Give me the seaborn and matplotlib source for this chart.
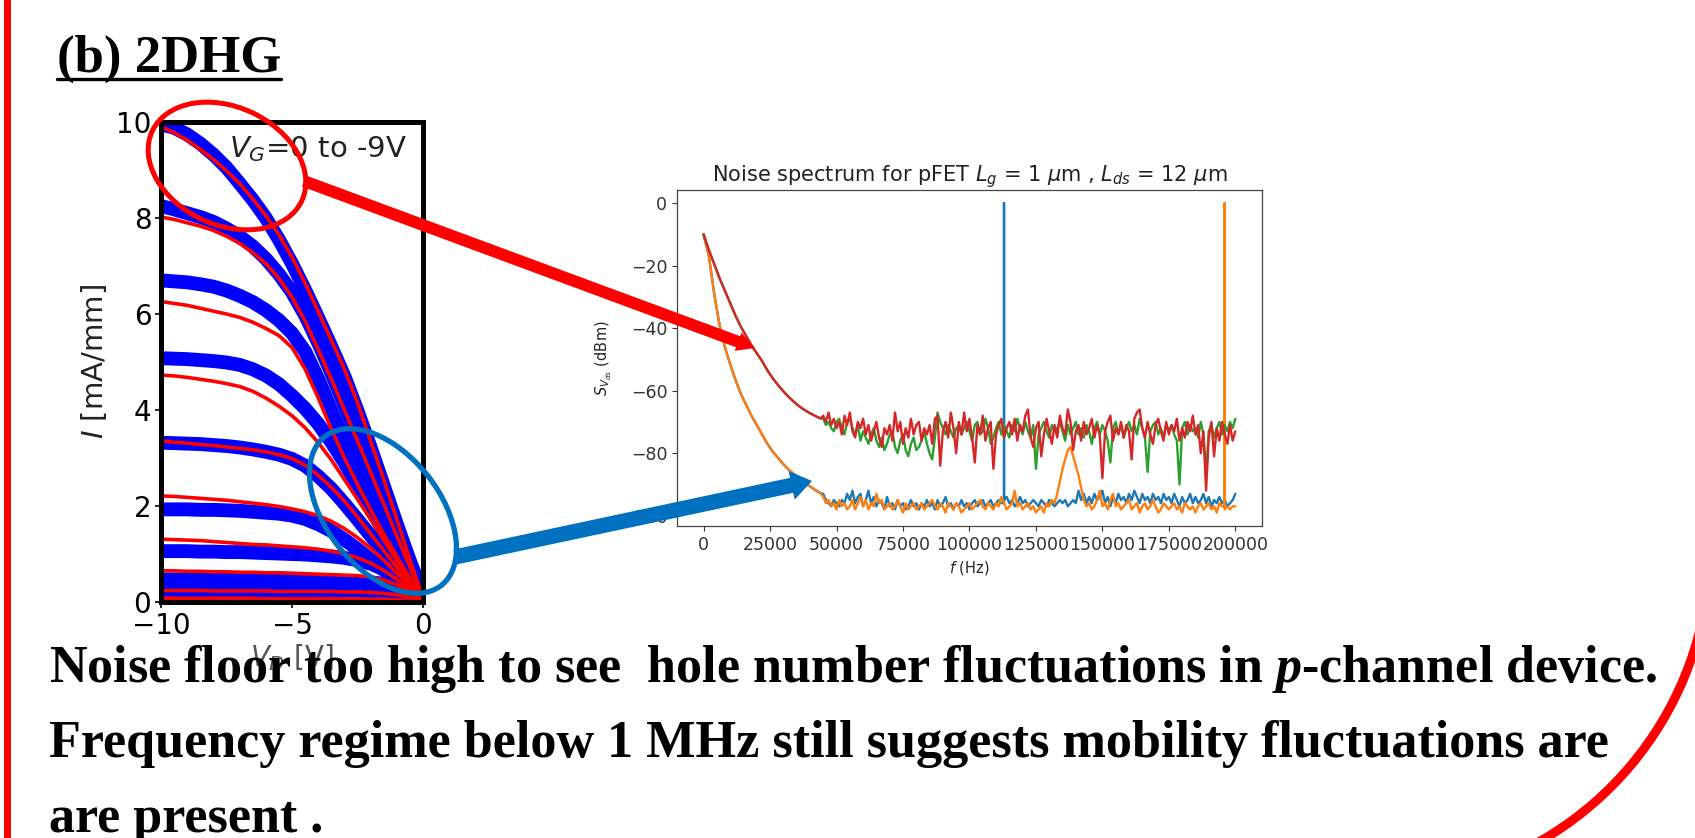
import pandas as pd
import seaborn as sns
import matplotlib.pyplot as plt
from matplotlib.patches import Ellipse, Arc, FancyArrowPatch
from matplotlib.lines import Line2D
from matplotlib.transforms import Affine2D

W, H = 1695, 838

# left panel: output curves for V_G = 0 ... -9 V (drain voltage in V, current in mA/mm)
v_drain = [-10, -9.5, -9, -8.5, -8, -7.5, -7, -6.5, -6, -5.5, -5,
           -4.5, -4, -3.5, -3, -2.5, -2, -1.5, -1, -0.5, 0]
measured_iv = [
    [9.95, 9.88, 9.74, 9.55, 9.32, 9.05, 8.72, 8.38, 8.00, 7.55, 7.05, 6.50, 5.92, 5.32, 4.70, 3.98, 3.22, 2.42, 1.62, 0.85, 0.15],
    [8.25, 8.18, 8.10, 8.02, 7.92, 7.78, 7.62, 7.41, 7.15, 6.83, 6.45, 5.97, 5.40, 4.77, 4.10, 3.43, 2.75, 2.08, 1.40, 0.75, 0.18],
    [6.70, 6.68, 6.66, 6.62, 6.57, 6.49, 6.38, 6.25, 6.08, 5.87, 5.60, 5.22, 4.65, 4.00, 3.35, 2.72, 2.10, 1.55, 1.02, 0.58, 0.18],
    [5.08, 5.07, 5.06, 5.04, 5.02, 4.99, 4.94, 4.85, 4.72, 4.54, 4.30, 4.03, 3.71, 3.33, 2.90, 2.43, 1.95, 1.47, 1.00, 0.58, 0.18],
    [3.32, 3.31, 3.30, 3.29, 3.27, 3.25, 3.22, 3.18, 3.13, 3.07, 2.98, 2.84, 2.62, 2.36, 2.05, 1.72, 1.38, 1.05, 0.72, 0.43, 0.18],
    [1.93, 1.93, 1.93, 1.92, 1.92, 1.91, 1.90, 1.88, 1.86, 1.84, 1.80, 1.73, 1.62, 1.48, 1.30, 1.10, 0.88, 0.67, 0.47, 0.30, 0.13],
    [1.06, 1.06, 1.06, 1.05, 1.05, 1.04, 1.04, 1.03, 1.02, 1.01, 1.00, 0.99, 0.97, 0.95, 0.92, 0.87, 0.80, 0.68, 0.52, 0.33, 0.13],
    [0.47, 0.47, 0.47, 0.47, 0.46, 0.46, 0.46, 0.46, 0.45, 0.45, 0.45, 0.45, 0.44, 0.44, 0.43, 0.42, 0.41, 0.38, 0.32, 0.22, 0.10],
    [0.20, 0.20, 0.20, 0.20, 0.20, 0.20, 0.20, 0.20, 0.20, 0.19, 0.19, 0.19, 0.19, 0.19, 0.18, 0.18, 0.17, 0.16, 0.14, 0.10, 0.05],
    [0.06, 0.06, 0.06, 0.06, 0.06, 0.06, 0.06, 0.06, 0.06, 0.06, 0.06, 0.06, 0.06, 0.05, 0.05, 0.05, 0.05, 0.05, 0.04, 0.03, 0.02],
]
model_iv = [
    [9.90, 9.78, 9.62, 9.43, 9.22, 8.98, 8.72, 8.40, 8.05, 7.65, 7.18, 6.64, 6.05, 5.45, 4.85, 4.15, 3.35, 2.55, 1.72, 0.88, 0.08],
    [8.02, 7.97, 7.90, 7.83, 7.74, 7.62, 7.47, 7.28, 7.05, 6.74, 6.35, 5.85, 5.26, 4.64, 4.00, 3.35, 2.70, 2.04, 1.37, 0.72, 0.08],
    [6.26, 6.22, 6.18, 6.12, 6.06, 6.00, 5.93, 5.83, 5.70, 5.55, 5.30, 4.85, 4.25, 3.60, 3.00, 2.45, 1.92, 1.42, 0.95, 0.50, 0.08],
    [4.73, 4.71, 4.68, 4.64, 4.60, 4.55, 4.49, 4.39, 4.25, 4.08, 3.88, 3.63, 3.32, 2.96, 2.55, 2.14, 1.72, 1.29, 0.86, 0.46, 0.08],
    [3.36, 3.33, 3.31, 3.28, 3.26, 3.23, 3.20, 3.17, 3.13, 3.07, 2.99, 2.85, 2.64, 2.39, 2.10, 1.77, 1.42, 1.07, 0.72, 0.38, 0.07],
    [2.21, 2.20, 2.18, 2.16, 2.14, 2.12, 2.09, 2.06, 2.03, 1.99, 1.94, 1.88, 1.80, 1.68, 1.53, 1.34, 1.12, 0.87, 0.60, 0.33, 0.06],
    [1.31, 1.30, 1.29, 1.28, 1.26, 1.24, 1.22, 1.20, 1.19, 1.17, 1.15, 1.13, 1.10, 1.06, 1.00, 0.92, 0.81, 0.66, 0.47, 0.26, 0.05],
    [0.65, 0.65, 0.64, 0.64, 0.63, 0.63, 0.62, 0.62, 0.61, 0.61, 0.60, 0.59, 0.58, 0.57, 0.56, 0.55, 0.52, 0.46, 0.36, 0.21, 0.04],
    [0.24, 0.24, 0.24, 0.24, 0.23, 0.23, 0.23, 0.23, 0.23, 0.22, 0.22, 0.22, 0.22, 0.22, 0.21, 0.21, 0.20, 0.18, 0.15, 0.10, 0.03],
    [0.08, 0.08, 0.08, 0.08, 0.08, 0.08, 0.08, 0.08, 0.07, 0.07, 0.07, 0.07, 0.07, 0.07, 0.07, 0.07, 0.06, 0.06, 0.05, 0.03, 0.01],
]

# right panel: noise spectra (Hz, dBm)
f_decay = list(range(0, 44001, 2000))
f_noise = list(range(45000, 200001, 1000))
decay_fast = [-10, -17, -29, -39, -46, -51.5, -56.5, -61, -64.5, -68, -71, -74,
              -77, -79.5, -81.5, -83.5, -85.3, -86.7, -88, -89.5, -90.6, -91.8, -92.8]
decay_slow = [-10, -15, -19.5, -24, -28, -32, -36, -39.5, -42.5, -45.5, -48, -50.5,
              -53.5, -56, -58.2, -60.2, -62, -63.6, -65, -66.2, -67.2, -68.1, -68.9]
blue_noise = [
    -93, -95, -96, -97, -95, -96, -97, -95, -96, -93,
    -95, -92, -96, -94, -93, -97, -95, -92, -96, -94,
    -97, -95, -96, -98, -94, -97, -96, -98, -95, -97,
    -96, -98, -97, -95, -97, -96, -98, -96, -97, -95,
    -97, -96, -98, -95, -97, -96, -94, -97, -96, -98,
    -96, -97, -95, -97, -96, -98, -96, -95, -97, -96,
    -95, -97, -96, -95, -97, -96, -95, -96, -95, -94,
    -96, -95, -97, -96, -94, -96, -95, -97, -96, -95,
    -96, -97, -95, -96, -97, -95, -96, -97, -96, -95,
    -96, -95, -97, -96, -95, -96, -92, -95, -93, -96,
    -94, -96, -93, -95, -94, -92, -96, -94, -97, -94,
    -96, -93, -95, -94, -96, -93, -95, -92, -94, -96,
    -93, -95, -94, -96, -93, -95, -94, -96, -93, -95,
    -94, -96, -93, -95, -97, -94, -96, -95, -93, -96,
    -94, -96, -95, -93, -96, -94, -97, -95, -96, -94,
    -96, -95, -97, -96, -95, -93]
orange_noise = [
    -94, -96, -95, -97, -96, -98, -95, -97, -96, -98,
    -97, -95, -98, -96, -94, -97, -95, -98, -96, -97,
    -93, -96, -95, -98, -97, -96, -98, -97, -95, -97,
    -99, -96, -98, -97, -96, -98, -97, -96, -98, -97,
    -96, -95, -97, -98, -96, -97, -99, -96, -97, -98,
    -96, -97, -99, -98, -97, -96, -98, -97, -96, -95,
    -97, -98, -96, -97, -98, -96, -97, -94, -96, -98,
    -97, -96, -92, -97, -96, -98, -97, -96, -98, -97,
    -99, -98, -97, -99, -96, -97, -95, -96, -93, -89,
    -85, -82, -79, -78, -81, -84, -87, -91, -95, -97,
    -96, -98, -97, -95, -92, -97, -96, -98, -95, -93,
    -97, -96, -98, -97, -96, -95, -98, -97, -96, -99,
    -97, -96, -98, -97, -95, -97, -99, -98, -96, -97,
    -98, -97, -96, -98, -97, -99, -96, -97, -98, -97,
    -99, -97, -96, -98, -97, -96, -98, -97, -99, -96,
    -97, -98, -97, -98, -97, -97]
green_noise = [
    -69, -71, -70, -72, -73, -70, -69, -72, -74, -70,
    -69, -72, -74, -71, -76, -73, -75, -77, -74, -72,
    -76, -78, -75, -79, -77, -74, -73, -78, -80, -76,
    -74, -79, -81, -77, -75, -79, -78, -76, -73, -77,
    -80, -82, -75, -67, -70, -72, -74, -71, -73, -75,
    -72, -71, -74, -72, -70, -73, -76, -71, -70, -74,
    -73, -69, -72, -77, -75, -72, -70, -74, -71, -73,
    -75, -71, -73, -69, -72, -74, -70, -73, -75, -71,
    -85, -74, -72, -70, -73, -75, -71, -73, -72, -70,
    -73, -76, -71, -74, -72, -70, -74, -72, -75, -71,
    -73, -77, -72, -70, -74, -71, -73, -76, -83, -72,
    -70, -74, -71, -75, -72, -70, -73, -71, -74, -69,
    -72, -75, -86, -73, -71, -70, -74, -72, -75, -71,
    -73, -71, -74, -76, -90, -72, -70, -74, -71, -73,
    -72, -75, -70, -74, -87, -73, -71, -75, -72, -70,
    -74, -71, -73, -70, -72, -69]
red_noise = [
    -68, -70, -67, -71, -69, -72, -70, -74, -68, -71,
    -67, -73, -75, -70, -72, -69, -74, -71, -76, -73,
    -70, -75, -78, -72, -74, -71, -76, -67, -73, -70,
    -77, -72, -75, -69, -74, -71, -70, -76, -72, -74,
    -71, -77, -69, -68, -84, -73, -70, -75, -67, -72,
    -80, -70, -74, -67, -73, -69, -75, -83, -71, -74,
    -68, -76, -72, -70, -85, -74, -71, -69, -75, -72,
    -70, -74, -69, -76, -71, -73, -68, -66, -75, -78,
    -72, -70, -81, -74, -69, -73, -77, -71, -75, -68,
    -72, -74, -66, -70, -79, -73, -71, -76, -70, -74,
    -72, -69, -75, -71, -74, -88, -73, -70, -68, -76,
    -72, -74, -70, -75, -71, -73, -82, -69, -67, -66,
    -72, -75, -70, -74, -77, -71, -69, -73, -76, -70,
    -74, -71, -73, -69, -76, -72, -75, -70, -73, -68,
    -74, -71, -80, -73, -92, -75, -70, -81, -72, -76,
    -70, -74, -77, -71, -76, -73]
blue_spike_f, blue_spike_db = 113000, [-96, 0, -96]
orange_spike_f, orange_spike_db = 196000, [-97, 0, -97]

trace_names = ['blue', 'orange', 'green', 'red']
trace_colors = ['#1f77b4', '#ff7f0e', '#2ca02c', '#d62728']

for lst in (blue_noise, orange_noise, green_noise, red_noise):
    assert len(lst) == len(f_noise)
for m, r in zip(measured_iv, model_iv):
    assert len(m) == len(v_drain) and len(r) == len(v_drain)


def trace(name, decay, noise, spike_f=None, spike_db=None):
    f = f_decay + f_noise
    s = decay + noise
    if spike_f is not None:
        i = sum(1 for v in f if v < spike_f)
        f = f[:i] + [spike_f] * len(spike_db) + f[i:]
        s = s[:i] + spike_db + s[i:]
    return pd.DataFrame({'f': f, 'S': s, 'trace': name})


spec = pd.concat([
    trace('blue', decay_fast, blue_noise, blue_spike_f, blue_spike_db),
    trace('orange', decay_fast, orange_noise, orange_spike_f, orange_spike_db),
    trace('green', decay_slow, green_noise),
    trace('red', decay_slow, red_noise),
], ignore_index=True)

rows_m, rows_r = [], []
for k, (m, r) in enumerate(zip(measured_iv, model_iv)):
    rows_m += [(v, i, k) for v, i in zip(v_drain, m)]
    rows_r += [(v, i, k) for v, i in zip(v_drain, r)]
meas_df = pd.DataFrame(rows_m, columns=['V', 'I', 'curve'])
model_df = pd.DataFrame(rows_r, columns=['V', 'I', 'curve'])

sns.set_style("ticks")
plt.rcParams['mathtext.rm'] = 'Liberation Serif:bold'
plt.rcParams['mathtext.it'] = 'Liberation Serif:italic:bold'
plt.rcParams['mathtext.bf'] = 'Liberation Serif:bold'

fig = plt.figure(figsize=(W / 100, H / 100), dpi=100)
fig.patch.set_facecolor('white')
px = Affine2D().scale(1, -1).translate(0, H)  # image pixels (y down) -> display

# I-V panel
ax1 = fig.add_axes([0.0950, 0.2816, 0.1546, 0.5728])
sns.lineplot(data=meas_df, x='V', y='I', units='curve', estimator=None, sort=False,
             color='#0000ff', lw=10, solid_capstyle='round', solid_joinstyle='round',
             legend=False, ax=ax1)
sns.lineplot(data=model_df, x='V', y='I', units='curve', estimator=None, sort=False,
             color='#ff0000', lw=2.6, legend=False, ax=ax1)
ax1.set_xlim(-10, 0)
ax1.set_ylim(0, 10)
ax1.set_xticks([-10, -5, 0])
ax1.set_yticks([0, 2, 4, 6, 8, 10])
ax1.tick_params(labelsize=20, length=4, width=1.2, colors='black', pad=3)
for sp in ax1.spines.values():
    sp.set_linewidth(3.6)
    sp.set_color('black')
ax1.set_xlabel(r'$V_D$ [V]', fontsize=20, color='#555555', labelpad=2)
ax1.set_ylabel(r'$I$ [mA/mm]', fontsize=21, color='#222222', labelpad=5)
ax1.text(0.94, 0.975, r'$V_G$=0 to -9V', transform=ax1.transAxes, ha='right', va='top',
         fontsize=21, color='#222222')

# noise spectrum panel
ax2 = fig.add_axes([0.3994, 0.3723, 0.3451, 0.4010])
sns.lineplot(data=spec, x='f', y='S', hue='trace', hue_order=trace_names,
             palette=trace_colors, estimator=None, sort=False, lw=1.7, legend=False, ax=ax2)
ax2.set_xlim(-10000, 210000)
ax2.set_ylim(-103.3, 4.2)
ax2.set_xticks(list(range(0, 200001, 25000)))
ax2.set_yticks([-100, -80, -60, -40, -20, 0])
ax2.tick_params(labelsize=12.5, colors='#333333', length=3.5, width=0.8)
for sp in ax2.spines.values():
    sp.set_linewidth(0.9)
    sp.set_color('#444444')
ax2.set_title(r'Noise spectrum for pFET $L_g$ = 1 $\mu$m , $L_{ds}$ = 12 $\mu$m',
              fontsize=15, color='#222222')
ax2.set_xlabel(r'$f$ (Hz)', fontsize=10.5, color='#222222')
ax2.set_ylabel(r'$S_{V_{ds}}$ (dBm)', fontsize=10.5, color='#222222')

# slide decorations
fig.add_artist(Line2D([6.7 / W, 6.7 / W], [0, 1], color='#ff0000', lw=5))
fig.add_artist(Arc((1372, 548), 676, 676, theta1=5, theta2=75, transform=px,
                   color='#ff0000', lw=6.5))
fig.add_artist(Ellipse((227, 166), 165, 118, angle=25, transform=px, fill=False,
                       edgecolor='#ff0000', lw=3.6, zorder=5))
fig.add_artist(Ellipse((383, 511), 189, 114, angle=52, transform=px, fill=False,
                       edgecolor='#0070c0', lw=3.8, zorder=5))
fig.add_artist(FancyArrowPatch((304, 181), (755, 348), transform=px,
                               arrowstyle='simple,head_length=13,head_width=14,tail_width=8.5',
                               color='#ff0000', lw=0, shrinkA=0, shrinkB=0, zorder=5))
fig.add_artist(FancyArrowPatch((455, 557), (812, 481), transform=px,
                               arrowstyle='simple,head_length=15,head_width=21,tail_width=11',
                               color='#0070c0', lw=0, shrinkA=0, shrinkB=0, zorder=5))

title = fig.text(57 / W, 1 - 72 / H, '(b) 2DHG', family='Liberation Serif',
                 weight='bold', size=38, va='baseline', color='black')

body = dict(family='Liberation Serif', weight='bold', size=37.5, va='baseline',
            color='black', zorder=6)
fig.text(49 / W, 1 - 682 / H,
         'Noise floor too high to see  hole number fluctuations in $p$-channel device.',
         math_fontfamily='custom', **body)
fig.text(49 / W, 1 - 757 / H,
         'Frequency regime below 1 MHz still suggests mobility fluctuations are', **body)
fig.text(49 / W, 1 - 832 / H, 'are present .', **body)

fig.canvas.draw()
bb = title.get_window_extent()
fig.add_artist(Line2D([bb.x0 / W, bb.x1 / W], [1 - 79 / H, 1 - 79 / H],
                      color='black', lw=2.4))

fig.savefig('out.png', dpi=100)
